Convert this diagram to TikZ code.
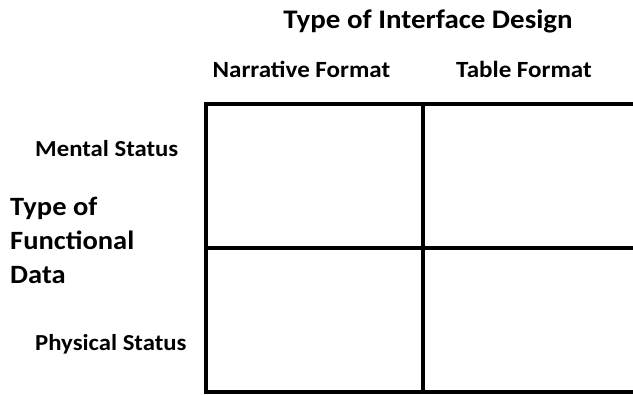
\documentclass[tikz,border=0pt]{standalone}
\usepackage{fontspec}
\setmainfont{Carlito}
\begin{document}
\begin{tikzpicture}[x=1pt,y=-1pt,
  lbl/.style={inner sep=0pt,xscale=1.08,font=\bfseries\fontsize{#1}{#1}\selectfont},
  gridline/.style={line width=4pt,black}]
\useasboundingbox (0,0) rectangle (633,395);
\clip (0,0) rectangle (633,395);
% grid
\coordinate (tl) at (206,104);
\coordinate (ml) at (206,248);
\coordinate (bl) at (206,392);
\coordinate (tc) at (423,104);
\coordinate (bc) at (423,392);
\coordinate (tr) at (640,104);
\coordinate (mr) at (640,248);
\coordinate (br) at (640,392);
\draw[gridline] (tr) -- (tl) -- (bl) -- (br);
\draw[gridline] (ml) -- (mr);
\draw[gridline] (tc) -- (bc);
% labels
\node[lbl=26.8,anchor=base] (title) at (428,29) {Type of Interface Design};
\node[lbl=23.2,anchor=base] (narr) at (301.5,78) {Narrative Format};
\node[lbl=23.2,anchor=base] (tabl) at (524,78) {Table Format};
\node[lbl=22.9,anchor=base west] (ment) at (35,157) {Mental Status};
\node[lbl=22.9,anchor=base west] (phys) at (35,351) {Physical Status};
\node[lbl=26.4,anchor=base west] (tofd) at (10,216) {Type of};
\node[lbl=26.4,anchor=base west] (func) at (10,250) {Functional};
\node[lbl=26.4,anchor=base west] (data) at (10,284) {Data};
\end{tikzpicture}
\end{document}
